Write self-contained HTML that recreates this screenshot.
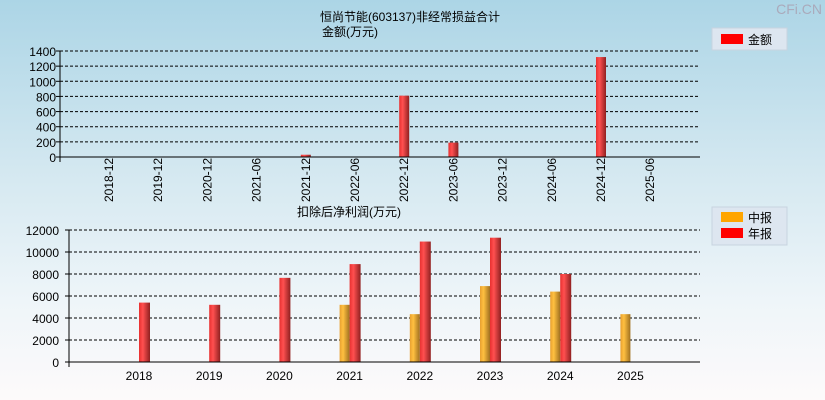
<!DOCTYPE html>
<html><head><meta charset="utf-8"><style>
body{margin:0;width:825px;height:400px;overflow:hidden;font-family:"Liberation Sans","Noto Sans CJK SC",sans-serif;}
#bg{position:absolute;left:0;top:0;width:825px;height:400px;background:linear-gradient(#acd5e6 0%,#d6e9f1 45%,#eef5f9 75%,#fdfafa 100%);}
svg{position:absolute;left:0;top:0}
text{font-family:"Liberation Sans","Noto Sans CJK SC",sans-serif;font-size:12px;fill:#000}
</style></head><body>
<div id="bg"></div>
<svg id="s" width="825" height="400">
<defs>
<linearGradient id="gr" x1="0" x2="1"><stop offset="0" stop-color="#e83030"/><stop offset="0.35" stop-color="#ff5050"/><stop offset="1" stop-color="#902020"/></linearGradient>
<linearGradient id="go" x1="0" x2="1"><stop offset="0" stop-color="#e8a030"/><stop offset="0.35" stop-color="#ffc040"/><stop offset="1" stop-color="#a07020"/></linearGradient>
</defs>
<text x="410" y="21" text-anchor="middle">恒尚节能(603137)非经常损益合计</text>
<text x="322" y="36">金额(万元)</text>
<text x="297" y="216">扣除后净利润(万元)</text>
<text x="822" y="14" text-anchor="end" style="font-size:14px;fill:#aab">CFi.CN</text>
<g>
<rect x="712" y="28" width="75" height="22" fill="#dde6f0" stroke="#c8d4e0"/>
<rect x="721" y="34" width="22" height="10" fill="#ff0000"/>
<text x="748" y="44">金额</text></g>
<g>
<rect x="712" y="207" width="75" height="38" fill="#dde6f0" stroke="#c8d4e0"/>
<rect x="721" y="212" width="22" height="10" fill="#ffa500"/>
<text x="748" y="222">中报</text>
<rect x="721" y="228" width="22" height="10" fill="#ff0000"/>
<text x="748" y="238">年报</text></g>
<g id="g1"></g><g id="g2"></g>
</svg>
<script>
const topCats=["2018-12","2019-12","2020-12","2021-06","2021-12","2022-06","2022-12","2023-06","2023-12","2024-06","2024-12","2025-06"];
const topVals=[0,0,0,0,30,0,810,190,0,0,1320,0];
const topTicks=[0,200,400,600,800,1000,1200,1400];
const botCats=["2018","2019","2020","2021","2022","2023","2024","2025"];
const annualVals=[5400,5200,7650,8900,10950,11300,8000,null];
const interimVals=[null,null,null,5200,4350,6900,6400,4350];
const botTicks=[0,2000,4000,6000,8000,10000,12000];
const NS="http://www.w3.org/2000/svg";
function mk(p,t,a){const e=document.createElementNS(NS,t);for(const k in a)e.setAttribute(k,a[k]);p.appendChild(e);return e;}
// top chart
const g1=document.getElementById('g1');
const t0=157,t1=51,tl=60,tr=700;
const ty=v=>t0-(v/1400)*(t0-t1);
const tx=i=>109+i*49.2;
topTicks.forEach(v=>{
 if(v>0){const l=mk(g1,'line',{x1:tl,x2:tr,y1:ty(v),y2:ty(v),stroke:'#000','stroke-dasharray':'3,2'});}
 mk(g1,'line',{x1:tl-4,x2:tl,y1:ty(v),y2:ty(v),stroke:'#000'});
 const t=mk(g1,'text',{x:tl-4,y:ty(v)+5,'text-anchor':'end'});t.textContent=v;
 
});
topCats.forEach((c,i)=>{
 const x=tx(i);
 const t=mk(g1,'text',{x:x+4,y:202,transform:`rotate(-90 ${x+4} 202)`});t.textContent=c;
 
 if(topVals[i]>0){const r=mk(g1,'rect',{x:x-5,y:ty(topVals[i]),width:10,height:t0-ty(topVals[i]),fill:'url(#gr)'});
 }
});
mk(g1,'line',{x1:tl,x2:tl,y1:t1,y2:t0+5,stroke:'#000'});
mk(g1,'line',{x1:tl,x2:tr,y1:t0,y2:t0,stroke:'#000'});
// bottom chart
const g2=document.getElementById('g2');
const b0=362,b1=230,bl=69,br=700;
const by=v=>b0-(v/12000)*(b0-b1);
const bx=i=>139+i*70.2;
botTicks.forEach(v=>{
 if(v>0){const l=mk(g2,'line',{x1:bl,x2:br,y1:by(v),y2:by(v),stroke:'#000','stroke-dasharray':'3,2'});}
 mk(g2,'line',{x1:bl-4,x2:bl,y1:by(v),y2:by(v),stroke:'#000'});
 const t=mk(g2,'text',{x:bl-10,y:by(v)+5,'text-anchor':'end'});t.textContent=v;
 
});
botCats.forEach((c,i)=>{
 const x=bx(i);
 const t=mk(g2,'text',{x:x,y:380,'text-anchor':'middle'});t.textContent=c;
 
 if(annualVals[i]!=null){const r=mk(g2,'rect',{x:x,y:by(annualVals[i]),width:11,height:b0-by(annualVals[i]),fill:'url(#gr)'});
 }
 if(interimVals[i]!=null){const r=mk(g2,'rect',{x:x-10,y:by(interimVals[i]),width:10,height:b0-by(interimVals[i]),fill:'url(#go)'});
 }
});
mk(g2,'line',{x1:bl,x2:bl,y1:b1,y2:b0+5,stroke:'#000'});
mk(g2,'line',{x1:bl,x2:br,y1:b0,y2:b0,stroke:'#000'});
</script>
</body></html>
